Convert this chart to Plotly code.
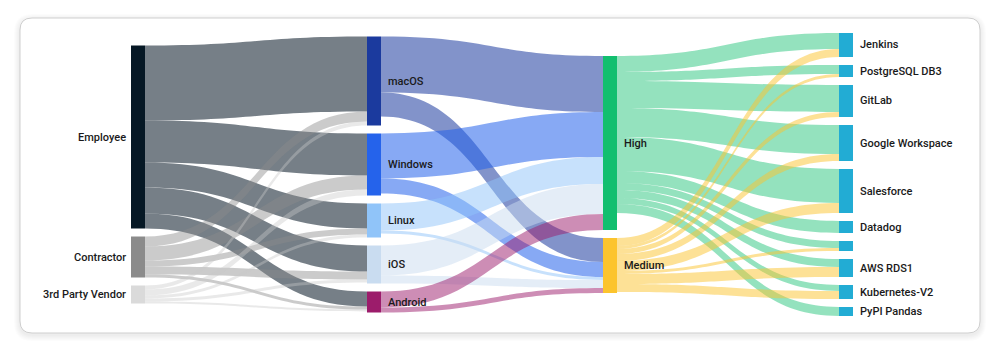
import plotly.graph_objects as go

# ---------------- data ----------------
user_types = ["Employee", "Contractor", "3rd Party Vendor"]
os_names = ["macOS", "Windows", "Linux", "iOS", "Android"]
risk_levels = ["High", "Medium"]
apps = ["Jenkins", "PostgreSQL DB3", "GitLab", "Google Workspace", "Salesforce",
        "Datadog", "", "AWS RDS1", "Kubernetes-V2", "PyPI Pandas"]

# user type -> OS  (rows: user_types, cols: os_names)
user_os_flows = [
    [75, 42, 25, 26, 15],
    [10, 14, 6, 8, 3],
    [4, 6, 3, 3, 2],
]
# OS -> risk  (rows: os_names, cols: risk_levels)
os_risk_flows = [
    [56, 24],
    [45, 15],
    [27, 3],
    [30, 8],
    [16, 5],
]
# risk -> app  (rows: risk_levels, cols: apps)
risk_app_flows = [
    [16, 9, 27, 29, 34, 12, 7, 8, 6, 9],
    [8, 3, 5, 7, 10, 0, 3, 10, 8, 0],
]

# ---------------- styles ----------------
user_colors = ["#061825", "#8b8b8b", "#dadada"]
user_link_colors = ["rgba(40,55,68,0.64)", "rgba(140,140,140,0.45)", "rgba(200,200,200,0.40)"]
os_colors = ["#1b3a9e", "#2563eb", "#90c4f9", "#c9dcf0", "#9c1c6b"]
os_link_colors = ["rgba(27,58,158,0.55)", "rgba(37,99,235,0.55)", "rgba(144,196,249,0.5)",
                  "rgba(201,220,240,0.5)", "rgba(156,28,107,0.5)"]
risk_colors = ["#12bf6f", "#fcc42d"]
risk_link_colors = ["rgba(18,191,111,0.45)", "rgba(252,196,45,0.5)"]
app_color = "#22acd4"

W_FIG, H_FIG = 1000, 357
M_L, M_R, M_T, M_B = 131, 147, 33, 41
PLOT_W = W_FIG - M_L - M_R
PLOT_H = H_FIG - M_T - M_B
THICK = 14
PAD = 8

# ---------------- build graph ----------------
groups = [user_types, os_names, risk_levels, apps]
labels, columns, node_colors = [], [], []
offsets = []
for ci, g in enumerate(groups):
    offsets.append(len(labels))
    labels += g
    columns += [ci] * len(g)
node_colors = user_colors + os_colors + risk_colors + [app_color] * len(apps)

src, tgt, val, lcol = [], [], [], []
def add_flows(matrix, c_from, c_to, colors):
    for i, row in enumerate(matrix):
        for j, v in enumerate(row):
            if v > 0:
                src.append(offsets[c_from] + i)
                tgt.append(offsets[c_to] + j)
                val.append(v)
                lcol.append(colors[i])

add_flows(user_os_flows, 0, 1, user_link_colors)
add_flows(os_risk_flows, 1, 2, os_link_colors)
add_flows(risk_app_flows, 2, 3, risk_link_colors)

n = len(labels)
inflow = [0] * n
outflow = [0] * n
for s, t, v in zip(src, tgt, val):
    outflow[s] += v
    inflow[t] += v
node_val = [max(a, b) for a, b in zip(inflow, outflow)]

ncol = len(groups)
col_nodes = [[i for i in range(n) if columns[i] == c] for c in range(ncol)]
ky = min((PLOT_H - (len(cn) - 1) * PAD) / sum(node_val[i] for i in cn) for cn in col_nodes)

node_x = [0.0] * n
node_y = [0.0] * n
for c, cn in enumerate(col_nodes):
    total = sum(node_val[i] for i in cn) * ky + (len(cn) - 1) * PAD
    y = (PLOT_H - total) / 2
    xc = (THICK / 2 + c * (PLOT_W - THICK) / (ncol - 1)) / PLOT_W
    for i in cn:
        h = node_val[i] * ky
        node_x[i] = xc
        node_y[i] = (y + h / 2) / PLOT_H
        y += h + PAD

fig = go.Figure(go.Sankey(
    arrangement="snap",
    node=dict(
        label=[""] * n,
        customdata=labels,
        hovertemplate="%{customdata}<extra></extra>",
        color=node_colors,
        thickness=THICK,
        pad=PAD,
        line=dict(width=0),
        x=node_x,
        y=node_y,
    ),
    link=dict(source=src, target=tgt, value=val, color=lcol),
))

# labels as annotations (outside for first column, right side otherwise)
annotations = []
for i in range(n):
    if not labels[i]:
        continue
    left = columns[i] == 0
    annotations.append(dict(
        x=node_x[i], y=1 - node_y[i], xref="paper", yref="paper",
        text=labels[i], showarrow=False,
        xanchor="right" if left else "left", yanchor="middle",
        xshift=-(THICK / 2 + 3) if left else (THICK / 2 + 5),
        font=dict(family="Roboto, Inter, sans-serif", size=11, color="#1a1a1a", weight=500),
    ))

# card background with rounded corners and soft shadow
def px(xp, yp):
    return (xp - M_L) / PLOT_W, 1 - (yp - M_T) / PLOT_H

def rounded(x0, y0, x1, y1, r):
    rx = r / PLOT_W
    ry = r / PLOT_H
    a0, b0 = px(x0, y0)
    a1, b1 = px(x1, y1)
    return (f"M {a0+rx},{b0} L {a1-rx},{b0} Q {a1},{b0} {a1},{b0-ry} "
            f"L {a1},{b1+ry} Q {a1},{b1} {a1-rx},{b1} L {a0+rx},{b1} "
            f"Q {a0},{b1} {a0},{b1+ry} L {a0},{b0-ry} Q {a0},{b0} {a0+rx},{b0} Z")

shapes = []
for k in range(6, 0, -1):
    shapes.append(dict(type="path", xref="paper", yref="paper", layer="below",
                       path=rounded(20 - k, 18 - k + 2, 980 + k, 333 + k + 2, 12 + k),
                       fillcolor="rgba(0,0,0,0.012)", line=dict(width=0)))
shapes.append(dict(type="path", xref="paper", yref="paper", layer="below",
                   path=rounded(20, 18, 980, 333, 12),
                   fillcolor="white", line=dict(color="#cfcfcf", width=1)))

fig.update_layout(
    width=W_FIG, height=H_FIG,
    margin=dict(l=M_L, r=M_R, t=M_T, b=M_B),
    paper_bgcolor="#ffffff",
    plot_bgcolor="#ffffff",
    shapes=shapes,
    annotations=annotations,
    font=dict(family="Roboto, Inter, sans-serif"),
)

fig.write_html("out.html", config={"displayModeBar": False},
               post_script="document.body.style.margin='0';")
